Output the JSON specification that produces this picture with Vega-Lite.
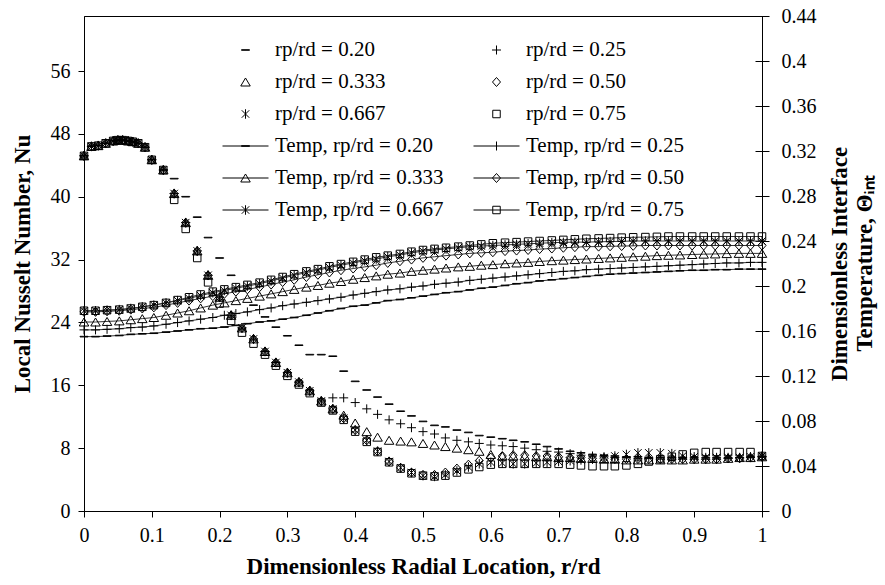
{
"$schema": "https://vega.github.io/schema/vega-lite/v6.json",
"width": 678, "height": 495, "autosize": "none",
"padding": {"left": 84, "top": 16, "right": 123, "bottom": 74},
"background": "white",
"config": {
  "font": "Liberation Serif",
  "view": {"stroke": "black", "strokeWidth": 1},
  "axis": {"grid": false, "domainColor": "black", "domainWidth": 1, "tickColor": "black", "tickWidth": 1, "labelColor": "black", "titleColor": "black", "labelFont": "Liberation Serif", "labelFontSize": 20, "titleFont": "Liberation Serif", "titleFontSize": 23, "titleFontWeight": "bold", "tickSize": 6, "labelFlush": false, "labelOverlap": false}
},
"datasets": {
"nu": [
{"x":0,"a":45.2,"b":45.2,"c":45.2,"d":45.2,"e":45.2,"f":45.2},
{"x":0.011,"a":46.4,"b":46.4,"c":46.4,"d":46.4,"e":46.4,"f":46.4},
{"x":0.021,"a":46.5,"b":46.5,"c":46.5,"d":46.5,"e":46.5,"f":46.5},
{"x":0.032,"a":46.8,"b":46.8,"c":46.8,"d":46.8,"e":46.8,"f":46.8},
{"x":0.043,"a":47.1,"b":47.1,"c":47.1,"d":47.1,"e":47.1,"f":47.1},
{"x":0.05,"a":47.2,"b":47.2,"c":47.2,"d":47.2,"e":47.2,"f":47.2},
{"x":0.057,"a":47.2,"b":47.2,"c":47.2,"d":47.2,"e":47.2,"f":47.2},
{"x":0.065,"a":47.1,"b":47.1,"c":47.1,"d":47.1,"e":47.1,"f":47.1},
{"x":0.072,"a":47.0,"b":47.0,"c":47.0,"d":47.0,"e":47.0,"f":47.0},
{"x":0.08,"a":46.8,"b":46.8,"c":46.8,"d":46.8,"e":46.8,"f":46.8},
{"x":0.09,"a":46.3,"b":46.3,"c":46.3,"d":46.3,"e":46.3,"f":46.3},
{"x":0.1,"a":44.7,"b":44.7,"c":44.7,"d":44.7,"e":44.7,"f":44.7},
{"x":0.117,"a":43.4,"b":43.4,"c":43.4,"d":43.4,"e":43.4,"f":43.4},
{"x":0.133,"a":42.3,"b":40.4,"c":40.4,"d":40.4,"e":40.4,"f":39.6},
{"x":0.15,"a":40.0,"b":36.7,"c":36.7,"d":36.7,"e":36.7,"f":35.9},
{"x":0.167,"a":37.4,"b":33.1,"c":33.1,"d":33.1,"e":33.1,"f":32.2},
{"x":0.183,"a":34.8,"b":30.0,"c":30.0,"d":30.0,"e":30.0,"f":29.1},
{"x":0.2,"a":32.2,"b":27.2,"c":27.2,"d":27.2,"e":27.2,"f":26.4},
{"x":0.217,"a":30.0,"b":24.9,"c":24.9,"d":24.9,"e":24.9,"f":24.2},
{"x":0.233,"a":28.0,"b":23.3,"c":23.3,"d":23.3,"e":23.3,"f":22.7},
{"x":0.25,"a":26.2,"b":21.9,"c":21.9,"d":21.9,"e":21.9,"f":21.3},
{"x":0.267,"a":24.7,"b":20.3,"c":20.3,"d":20.3,"e":20.3,"f":19.9},
{"x":0.283,"a":23.4,"b":18.9,"c":18.9,"d":18.9,"e":18.9,"f":18.5},
{"x":0.3,"a":22.3,"b":17.6,"c":17.6,"d":17.6,"e":17.6,"f":17.2},
{"x":0.317,"a":21.1,"b":16.4,"c":16.4,"d":16.4,"e":16.4,"f":16.1},
{"x":0.333,"a":19.9,"b":15.3,"c":15.3,"d":15.3,"e":15.3,"f":15.0},
{"x":0.35,"a":19.9,"b":14.0,"c":14.0,"d":14.0,"e":14.0,"f":13.8},
{"x":0.367,"a":19.7,"b":14.4,"c":13.0,"d":13.0,"e":13.0,"f":12.8},
{"x":0.383,"a":17.8,"b":14.4,"c":12.2,"d":11.8,"e":11.8,"f":11.6},
{"x":0.4,"a":16.5,"b":13.8,"c":11.2,"d":10.3,"e":10.3,"f":10.1},
{"x":0.417,"a":15.4,"b":13.0,"c":10.1,"d":9.0,"e":9.0,"f":8.8},
{"x":0.433,"a":14.5,"b":12.3,"c":9.4,"d":7.6,"e":7.6,"f":7.5},
{"x":0.45,"a":13.6,"b":11.6,"c":9.0,"d":6.3,"e":6.3,"f":6.2},
{"x":0.467,"a":12.7,"b":11.1,"c":8.9,"d":5.5,"e":5.5,"f":5.4},
{"x":0.483,"a":12.1,"b":10.6,"c":8.8,"d":4.9,"e":4.9,"f":4.8},
{"x":0.5,"a":11.4,"b":10.1,"c":8.6,"d":4.6,"e":4.5,"f":4.5},
{"x":0.517,"a":10.9,"b":9.8,"c":8.4,"d":4.6,"e":4.4,"f":4.4},
{"x":0.533,"a":10.7,"b":9.3,"c":8.2,"d":4.9,"e":4.6,"f":4.5},
{"x":0.55,"a":10.3,"b":9.0,"c":8.0,"d":5.4,"e":5.1,"f":4.9},
{"x":0.567,"a":10.0,"b":8.8,"c":7.8,"d":5.9,"e":5.6,"f":5.3},
{"x":0.583,"a":9.6,"b":8.6,"c":7.6,"d":6.4,"e":6.0,"f":5.6},
{"x":0.6,"a":9.4,"b":8.4,"c":7.2,"d":6.8,"e":6.2,"f":5.9},
{"x":0.617,"a":9.2,"b":8.3,"c":7.0,"d":7.0,"e":6.1,"f":6.0},
{"x":0.633,"a":9.0,"b":8.2,"c":7.0,"d":7.1,"e":6.0,"f":6.0},
{"x":0.65,"a":8.8,"b":8.0,"c":7.0,"d":7.1,"e":6.0,"f":6.0},
{"x":0.667,"a":8.5,"b":7.8,"c":6.9,"d":7.0,"e":6.1,"f":6.0},
{"x":0.683,"a":8.2,"b":7.6,"c":6.9,"d":7.0,"e":6.2,"f":6.0},
{"x":0.7,"a":7.9,"b":7.5,"c":6.8,"d":6.9,"e":6.3,"f":6.0},
{"x":0.717,"a":7.6,"b":7.3,"c":6.8,"d":6.8,"e":6.4,"f":5.9},
{"x":0.733,"a":7.4,"b":7.1,"c":6.7,"d":6.8,"e":6.5,"f":5.8},
{"x":0.75,"a":7.2,"b":7.0,"c":6.7,"d":6.7,"e":6.6,"f":5.7},
{"x":0.767,"a":7.1,"b":6.9,"c":6.6,"d":6.7,"e":6.8,"f":5.7},
{"x":0.783,"a":7.0,"b":6.8,"c":6.6,"d":6.6,"e":7.0,"f":5.7},
{"x":0.8,"a":6.9,"b":6.8,"c":6.5,"d":6.6,"e":7.2,"f":5.8},
{"x":0.817,"a":6.9,"b":6.7,"c":6.5,"d":6.6,"e":7.4,"f":6.0},
{"x":0.833,"a":6.8,"b":6.7,"c":6.5,"d":6.6,"e":7.4,"f":6.3},
{"x":0.85,"a":6.8,"b":6.6,"c":6.5,"d":6.6,"e":7.4,"f":6.6},
{"x":0.867,"a":6.8,"b":6.6,"c":6.5,"d":6.6,"e":7.3,"f":6.9},
{"x":0.883,"a":6.8,"b":6.6,"c":6.5,"d":6.6,"e":7.0,"f":7.2},
{"x":0.9,"a":6.8,"b":6.6,"c":6.6,"d":6.6,"e":6.9,"f":7.4},
{"x":0.917,"a":6.8,"b":6.6,"c":6.6,"d":6.6,"e":6.8,"f":7.5},
{"x":0.933,"a":6.8,"b":6.6,"c":6.6,"d":6.6,"e":6.8,"f":7.5},
{"x":0.95,"a":6.8,"b":6.7,"c":6.7,"d":6.7,"e":6.8,"f":7.5},
{"x":0.967,"a":6.8,"b":6.8,"c":6.8,"d":6.7,"e":6.8,"f":7.5},
{"x":0.983,"a":6.9,"b":6.8,"c":6.8,"d":6.8,"e":6.9,"f":7.5},
{"x":1,"a":6.9,"b":6.9,"c":6.9,"d":6.9,"e":7.0,"f":7.0}
],
"temp": [
{"x":0,"a":0.155,"b":0.161,"c":0.168,"d":0.177,"e":0.178,"f":0.178},
{"x":0.017,"a":0.155,"b":0.161,"c":0.168,"d":0.177,"e":0.178,"f":0.178},
{"x":0.034,"a":0.1555,"b":0.1615,"c":0.1685,"d":0.1775,"e":0.1785,"f":0.1785},
{"x":0.052,"a":0.156,"b":0.162,"c":0.169,"d":0.178,"e":0.179,"f":0.179},
{"x":0.069,"a":0.157,"b":0.163,"c":0.170,"d":0.179,"e":0.180,"f":0.180},
{"x":0.086,"a":0.1575,"b":0.1635,"c":0.171,"d":0.180,"e":0.1815,"f":0.1815},
{"x":0.103,"a":0.158,"b":0.1645,"c":0.172,"d":0.181,"e":0.183,"f":0.183},
{"x":0.121,"a":0.159,"b":0.166,"c":0.174,"d":0.183,"e":0.185,"f":0.185},
{"x":0.138,"a":0.160,"b":0.1675,"c":0.176,"d":0.185,"e":0.187,"f":0.1875},
{"x":0.155,"a":0.161,"b":0.169,"c":0.178,"d":0.187,"e":0.189,"f":0.190},
{"x":0.172,"a":0.162,"b":0.1705,"c":0.1805,"d":0.189,"e":0.1915,"f":0.1925},
{"x":0.19,"a":0.1625,"b":0.172,"c":0.183,"d":0.191,"e":0.194,"f":0.195},
{"x":0.207,"a":0.1635,"b":0.174,"c":0.185,"d":0.193,"e":0.196,"f":0.197},
{"x":0.224,"a":0.165,"b":0.1755,"c":0.187,"d":0.195,"e":0.198,"f":0.199},
{"x":0.241,"a":0.1665,"b":0.177,"c":0.189,"d":0.197,"e":0.200,"f":0.201},
{"x":0.259,"a":0.168,"b":0.179,"c":0.191,"d":0.199,"e":0.202,"f":0.203},
{"x":0.276,"a":0.169,"b":0.1805,"c":0.193,"d":0.2013,"e":0.2045,"f":0.2055},
{"x":0.293,"a":0.1705,"b":0.1825,"c":0.195,"d":0.2035,"e":0.207,"f":0.208},
{"x":0.31,"a":0.172,"b":0.184,"c":0.197,"d":0.2055,"e":0.2095,"f":0.2105},
{"x":0.328,"a":0.174,"b":0.1855,"c":0.199,"d":0.208,"e":0.212,"f":0.213},
{"x":0.345,"a":0.176,"b":0.187,"c":0.2005,"d":0.21,"e":0.214,"f":0.215},
{"x":0.362,"a":0.178,"b":0.1885,"c":0.2025,"d":0.212,"e":0.2165,"f":0.2175},
{"x":0.379,"a":0.18,"b":0.19,"c":0.204,"d":0.214,"e":0.2185,"f":0.2195},
{"x":0.397,"a":0.182,"b":0.192,"c":0.206,"d":0.2155,"e":0.2205,"f":0.2215},
{"x":0.414,"a":0.183,"b":0.1935,"c":0.2075,"d":0.217,"e":0.2225,"f":0.2235},
{"x":0.431,"a":0.185,"b":0.195,"c":0.209,"d":0.2185,"e":0.224,"f":0.2255},
{"x":0.448,"a":0.187,"b":0.1965,"c":0.2105,"d":0.2205,"e":0.226,"f":0.227},
{"x":0.466,"a":0.188,"b":0.1975,"c":0.2115,"d":0.222,"e":0.2275,"f":0.2285},
{"x":0.483,"a":0.1895,"b":0.199,"c":0.213,"d":0.2235,"e":0.2295,"f":0.2305},
{"x":0.5,"a":0.191,"b":0.2,"c":0.214,"d":0.225,"e":0.231,"f":0.232},
{"x":0.517,"a":0.1925,"b":0.2015,"c":0.215,"d":0.226,"e":0.232,"f":0.233},
{"x":0.534,"a":0.194,"b":0.2025,"c":0.216,"d":0.227,"e":0.233,"f":0.234},
{"x":0.552,"a":0.195,"b":0.2035,"c":0.217,"d":0.228,"e":0.234,"f":0.235},
{"x":0.569,"a":0.1965,"b":0.205,"c":0.2175,"d":0.229,"e":0.235,"f":0.236},
{"x":0.586,"a":0.198,"b":0.206,"c":0.2185,"d":0.2295,"e":0.2355,"f":0.237},
{"x":0.603,"a":0.199,"b":0.207,"c":0.219,"d":0.230,"e":0.236,"f":0.238},
{"x":0.621,"a":0.2005,"b":0.208,"c":0.2198,"d":0.231,"e":0.2365,"f":0.2385},
{"x":0.638,"a":0.202,"b":0.209,"c":0.2205,"d":0.2315,"e":0.237,"f":0.239},
{"x":0.655,"a":0.203,"b":0.21,"c":0.221,"d":0.232,"e":0.2375,"f":0.2395},
{"x":0.672,"a":0.2045,"b":0.211,"c":0.2218,"d":0.2328,"e":0.238,"f":0.240},
{"x":0.69,"a":0.2055,"b":0.212,"c":0.2225,"d":0.2333,"e":0.2385,"f":0.2405},
{"x":0.707,"a":0.2065,"b":0.213,"c":0.223,"d":0.234,"e":0.2388,"f":0.241},
{"x":0.724,"a":0.2075,"b":0.2135,"c":0.2235,"d":0.2345,"e":0.239,"f":0.2415},
{"x":0.741,"a":0.2085,"b":0.2145,"c":0.224,"d":0.235,"e":0.239,"f":0.242},
{"x":0.759,"a":0.2095,"b":0.215,"c":0.2245,"d":0.235,"e":0.2393,"f":0.2423},
{"x":0.776,"a":0.2105,"b":0.2155,"c":0.225,"d":0.2353,"e":0.2395,"f":0.2426},
{"x":0.793,"a":0.211,"b":0.216,"c":0.2255,"d":0.2355,"e":0.2397,"f":0.243},
{"x":0.81,"a":0.2115,"b":0.2165,"c":0.226,"d":0.2357,"e":0.24,"f":0.2433},
{"x":0.828,"a":0.212,"b":0.217,"c":0.2265,"d":0.236,"e":0.24,"f":0.2435},
{"x":0.845,"a":0.2125,"b":0.2175,"c":0.227,"d":0.236,"e":0.24,"f":0.2437},
{"x":0.862,"a":0.213,"b":0.218,"c":0.2273,"d":0.236,"e":0.24,"f":0.244},
{"x":0.879,"a":0.2135,"b":0.2185,"c":0.2276,"d":0.236,"e":0.24,"f":0.244},
{"x":0.897,"a":0.214,"b":0.219,"c":0.228,"d":0.236,"e":0.24,"f":0.244},
{"x":0.914,"a":0.214,"b":0.2195,"c":0.2283,"d":0.236,"e":0.24,"f":0.244},
{"x":0.931,"a":0.2145,"b":0.22,"c":0.2285,"d":0.236,"e":0.24,"f":0.244},
{"x":0.948,"a":0.2145,"b":0.2205,"c":0.2288,"d":0.236,"e":0.24,"f":0.244},
{"x":0.966,"a":0.215,"b":0.2205,"c":0.229,"d":0.236,"e":0.24,"f":0.244},
{"x":0.983,"a":0.215,"b":0.221,"c":0.229,"d":0.236,"e":0.24,"f":0.244},
{"x":1,"a":0.215,"b":0.221,"c":0.229,"d":0.236,"e":0.24,"f":0.244}
]
},
"layer": [
{
  "data": {"name": "nu"},
  "transform": [{"fold": ["a","b","c","d","e","f"], "as": ["s","v"]}],
  "mark": {"type": "point", "filled": false, "color": "black", "strokeWidth": 1, "size": 100, "opacity": 1},
  "encoding": {
    "x": {"field": "x", "type": "quantitative", "scale": {"domain": [0,1], "nice": false, "zero": false},
      "axis": {"values": [0,0.1,0.2,0.3,0.4,0.5,0.6,0.7,0.8,0.9,1], "format": ".1~f", "tickSize": 6, "labelPadding": 8, "title": "Dimensionless Radial Location, r/rd", "titlePadding": 10}},
    "y": {"field": "v", "type": "quantitative", "scale": {"domain": [0,63], "nice": false, "zero": false},
      "axis": {"orient": "left", "values": [0,8,16,24,32,40,48,56], "tickSize": 6, "labelPadding": 8, "title": "Local Nusselt Number, Nu", "titlePadding": 16}},
    "shape": {"field": "s", "type": "nominal", "legend": null, "scale": {"domain": ["a","b","c","d","e","f"], "range": [
      "M-0.8,-0.06H0.8V0.06H-0.8Z",
      "M-0.9,0H0.9M0,-0.9V0.9",
      "M0,-0.8L0.95,0.8H-0.95Z",
      "M0,-0.9L0.8,0L0,0.9L-0.8,0Z",
      "M-0.75,-0.75L0.75,0.75M-0.75,0.75L0.75,-0.75M0,-0.95V0.95",
      "M-0.75,-0.75H0.75V0.75H-0.75Z"]}}
  }
},
{
  "data": {"name": "temp"},
  "transform": [{"fold": ["a","b","c","d","e","f"], "as": ["s","v"]}],
  "encoding": {
    "x": {"field": "x", "type": "quantitative", "scale": {"domain": [0,1], "nice": false, "zero": false}},
    "y": {"field": "v", "type": "quantitative", "scale": {"domain": [0,0.44], "nice": false, "zero": false},
      "axis": {"orient": "right", "values": [0,0.04,0.08,0.12,0.16,0.2,0.24,0.28,0.32,0.36,0.4,0.44], "format": ".2~f", "domain": false, "offset": -7, "tickSize": 14, "labelPadding": 12, "title": ["Dimensionless Interface", "Temperature, Θᵢₙₜ"], "titleAngle": 270, "titlePadding": 10}}
  },
  "layer": [
    {"mark": {"type": "line", "color": "#333333", "strokeWidth": 1}, "encoding": {"detail": {"field": "s", "type": "nominal"}}},
    {"mark": {"type": "point", "filled": false, "color": "black", "strokeWidth": 1, "size": 100, "opacity": 1},
     "encoding": {"shape": {"field": "s", "type": "nominal", "legend": null, "scale": {"domain": ["a","b","c","d","e","f"], "range": [
      "M-0.8,-0.06H0.8V0.06H-0.8Z",
      "M-0.9,0H0.9M0,-0.9V0.9",
      "M0,-0.8L0.95,0.8H-0.95Z",
      "M0,-0.9L0.8,0L0,0.9L-0.8,0Z",
      "M-0.75,-0.75L0.75,0.75M-0.75,0.75L0.75,-0.75M0,-0.95V0.95",
      "M-0.75,-0.75H0.75V0.75H-0.75Z"]}}}}
  ]
},
{
  "data": {"values": []},
  "mark": {"type": "point", "filled": false, "color": "black", "strokeWidth": 1, "opacity": 1},
  "encoding": {
    "shape": {"field": "lab", "type": "nominal",
      "scale": {"domain": ["rp/rd = 0.20","rp/rd = 0.333","rp/rd = 0.667","Temp, rp/rd = 0.20","Temp, rp/rd = 0.333","Temp, rp/rd = 0.667","rp/rd = 0.25","rp/rd = 0.50","rp/rd = 0.75","Temp, rp/rd = 0.25","Temp, rp/rd = 0.50","Temp, rp/rd = 0.75"],
        "range": [
        "M-0.174,-0.013H0.174V0.013H-0.174Z",
        "M0,-0.174L0.207,0.174H-0.207Z",
        "M-0.163,-0.163L0.163,0.163M-0.163,0.163L0.163,-0.163M0,-0.207V0.207",
        "M-1,0H1M-0.174,-0.013H0.174V0.013H-0.174Z",
        "M-1,0H1M0,-0.174L0.207,0.174H-0.207Z",
        "M-1,0H1M-0.163,-0.163L0.163,0.163M-0.163,0.163L0.163,-0.163M0,-0.207V0.207",
        "M-0.196,0H0.196M0,-0.196V0.196",
        "M0,-0.196L0.174,0L0,0.196L-0.174,0Z",
        "M-0.163,-0.163H0.163V0.163H-0.163Z",
        "M-1,0H1M0,-0.196V0.196",
        "M-1,0H1M0,-0.196L0.174,0L0,0.196L-0.174,0Z",
        "M-1,0H1M-0.163,-0.163H0.163V0.163H-0.163Z"]},
      "legend": {"orient": "none", "legendX": 138, "legendY": 18, "columns": 2, "columnPadding": 29, "rowPadding": 0, "clipHeight": 32, "symbolSize": 2116, "symbolStrokeWidth": 1, "symbolStrokeColor": "black", "symbolFillColor": "transparent", "labelFont": "Liberation Serif", "labelFontSize": 21, "labelColor": "black", "labelOffset": 6, "labelLimit": 400, "title": null, "padding": 0}}
  }
}
],
"resolve": {"scale": {"y": "independent", "shape": "independent"}, "legend": {"shape": "independent"}}
}
